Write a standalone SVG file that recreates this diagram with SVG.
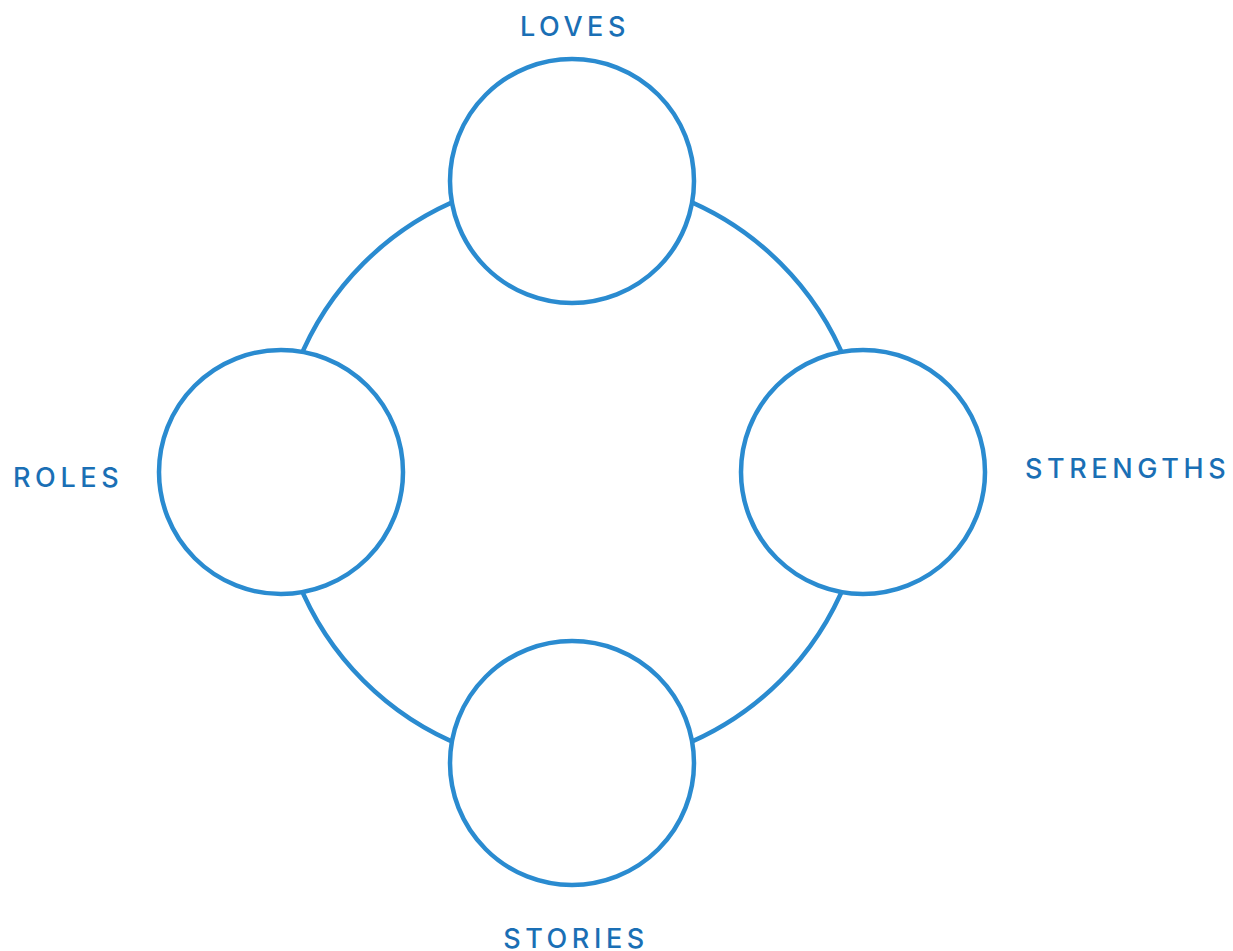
<svg xmlns="http://www.w3.org/2000/svg" width="1233" height="951" viewBox="0 0 1233 951">
<style>
.ring{fill:none;stroke:#2a8bd0;stroke-width:4.5}
.node{fill:#fff;stroke:#2a8bd0;stroke-width:4.5}
.lbl{font-family:Inter,"Liberation Sans",sans-serif;font-size:27px;font-weight:500;fill:#1a6fb5;letter-spacing:4.6px}
</style>
<rect width="1233" height="951" fill="#fff"/>
<g id="connectors">
<circle class="ring" cx="572" cy="472" r="295"/>
</g>
<g id="loves"><circle class="node" cx="572" cy="181" r="122"/><text class="lbl" x="575" y="36" text-anchor="middle">LOVES</text></g>
<g id="roles"><circle class="node" cx="281" cy="472" r="122"/><text class="lbl" x="13" y="487">ROLES</text></g>
<g id="strengths"><circle class="node" cx="863" cy="472" r="122"/><text class="lbl" x="1025" y="478">STRENGTHS</text></g>
<g id="stories"><circle class="node" cx="572" cy="763" r="122"/><text class="lbl" x="576" y="948" text-anchor="middle">STORIES</text></g>
</svg>
